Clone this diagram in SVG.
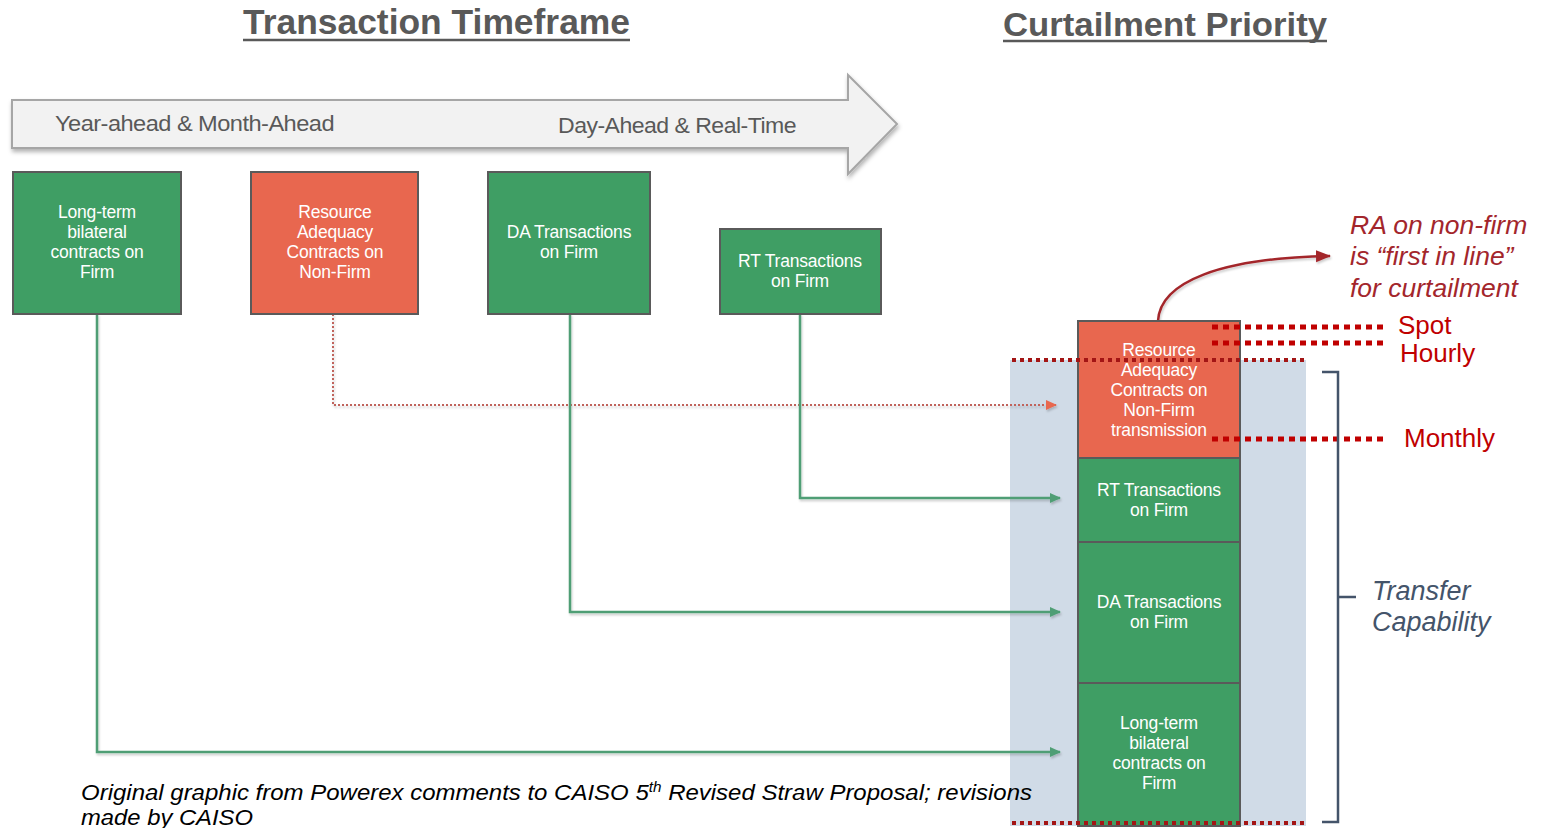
<svg xmlns="http://www.w3.org/2000/svg" width="1541" height="828" viewBox="0 0 1541 828">
<style>
.title{font-family:"Liberation Sans",Arial,sans-serif;font-weight:bold;fill:#595959;}
.tl{font-family:"Liberation Sans",Arial,sans-serif;font-size:22px;fill:#595959;letter-spacing:-0.5px;}
.bt{font-family:"Liberation Sans",Arial,sans-serif;font-size:17.5px;fill:#ffffff;text-anchor:middle;letter-spacing:-0.2px;}
.green{fill:#3f9e64;stroke:#5a5a5a;stroke-width:2;}
.orange{fill:#e8674f;stroke:#5a5a5a;stroke-width:2;}
.gc{fill:none;stroke:#4f9e74;stroke-width:2.5;}
.lbl{font-family:"Liberation Sans",Arial,sans-serif;font-size:26px;fill:#c00000;}
.ra{font-family:"Liberation Sans",Arial,sans-serif;font-size:26.5px;font-style:italic;fill:#a3262c;}
.tc{font-family:"Liberation Sans",Arial,sans-serif;font-size:27px;font-style:italic;fill:#44546a;}
.cap{font-family:"Liberation Sans",Arial,sans-serif;font-size:22px;font-style:italic;fill:#000;}
.rdot{stroke:#c00000;stroke-width:5;stroke-dasharray:6 5;fill:none;}
.bdot{stroke:#a31515;stroke-width:4;stroke-dasharray:4 4;fill:none;}
</style>
<defs>
<filter id="sh" x="-5%" y="-20%" width="110%" height="140%">
<feDropShadow dx="1" dy="3" stdDeviation="2" flood-color="#000" flood-opacity="0.3"/>
</filter>
<filter id="ls" x="-5%" y="-5%" width="110%" height="110%">
<feDropShadow dx="1" dy="2" stdDeviation="1.2" flood-color="#000" flood-opacity="0.2"/>
</filter>
<marker id="ag" markerWidth="12" markerHeight="12" refX="10" refY="5" orient="auto" markerUnits="userSpaceOnUse">
<path d="M0,0 L11,5 L0,10 Z" fill="#4f9e74"/>
</marker>
<marker id="ao" markerWidth="12" markerHeight="12" refX="10" refY="5" orient="auto" markerUnits="userSpaceOnUse">
<path d="M0,0 L11,5 L0,10 Z" fill="#e8674f"/>
</marker>
<marker id="ar" markerWidth="16" markerHeight="14" refX="14" refY="6" orient="auto" markerUnits="userSpaceOnUse">
<path d="M0,0 L15,6 L0,12 Z" fill="#a3262c"/>
</marker>
</defs>
<rect width="1541" height="828" fill="#ffffff"/>

<g id="titles">
<text class="title" x="243" y="34" font-size="35" textLength="387" lengthAdjust="spacingAndGlyphs">Transaction Timeframe</text>
<line x1="243" y1="40" x2="630" y2="40" stroke="#595959" stroke-width="2.5"/>
<text class="title" x="1003" y="36" font-size="33" textLength="324" lengthAdjust="spacingAndGlyphs">Curtailment Priority</text>
<line x1="1003" y1="41" x2="1327" y2="41" stroke="#595959" stroke-width="2.5"/>
</g>

<g id="timeline">
<path d="M12,100 L848,100 L848,75 L897,124 L848,174 L848,148 L12,148 Z" fill="#f2f2f2" stroke="#a6a6a6" stroke-width="2" filter="url(#sh)"/>
<text class="tl" x="55" y="131" textLength="279" lengthAdjust="spacingAndGlyphs">Year-ahead &amp; Month-Ahead</text>
<text class="tl" x="558" y="133" textLength="238" lengthAdjust="spacingAndGlyphs">Day-Ahead &amp; Real-Time</text>
</g>

<g id="bg-capability">
<rect x="1010" y="360" width="296" height="466" fill="#d0dbe7"/>
</g>

<g id="connectors" filter="url(#ls)">
<polyline class="gc" points="97,314 97,752 1060,752" marker-end="url(#ag)"/>
<polyline points="333,314 333,405 1056,405" fill="none" stroke="#c0645c" stroke-width="2" stroke-dasharray="2 2" marker-end="url(#ao)"/>
<polyline class="gc" points="570,314 570,612 1060,612" marker-end="url(#ag)"/>
<polyline class="gc" points="800,314 800,498 1060,498" marker-end="url(#ag)"/>
<path d="M1158,321 C1160,282 1220,258 1330,256" fill="none" stroke="#a3262c" stroke-width="2.5" marker-end="url(#ar)"/>
</g>

<g id="tf-longterm">
<rect class="green" x="13" y="172" width="168" height="142"/>
<text class="bt" x="97" y="218">Long-term</text>
<text class="bt" x="97" y="238">bilateral</text>
<text class="bt" x="97" y="258">contracts on</text>
<text class="bt" x="97" y="278">Firm</text>
</g>
<g id="tf-ra">
<rect class="orange" x="251" y="172" width="167" height="142"/>
<text class="bt" x="335" y="218">Resource</text>
<text class="bt" x="335" y="238">Adequacy</text>
<text class="bt" x="335" y="258">Contracts on</text>
<text class="bt" x="335" y="278">Non-Firm</text>
</g>
<g id="tf-da">
<rect class="green" x="488" y="172" width="162" height="142"/>
<text class="bt" x="569" y="238">DA Transactions</text>
<text class="bt" x="569" y="258">on Firm</text>
</g>
<g id="tf-rt">
<rect class="green" x="720" y="229" width="161" height="85"/>
<text class="bt" x="800" y="267">RT Transactions</text>
<text class="bt" x="800" y="287">on Firm</text>
</g>

<g id="cp-ra">
<rect class="orange" x="1078" y="321" width="162" height="137"/>
<text class="bt" x="1159" y="356">Resource</text>
<text class="bt" x="1159" y="376">Adequacy</text>
<text class="bt" x="1159" y="396">Contracts on</text>
<text class="bt" x="1159" y="416">Non-Firm</text>
<text class="bt" x="1159" y="436">transmission</text>
</g>
<g id="cp-rt">
<rect class="green" x="1078" y="458" width="162" height="84"/>
<text class="bt" x="1159" y="496">RT Transactions</text>
<text class="bt" x="1159" y="516">on Firm</text>
</g>
<g id="cp-da">
<rect class="green" x="1078" y="542" width="162" height="141"/>
<text class="bt" x="1159" y="608">DA Transactions</text>
<text class="bt" x="1159" y="628">on Firm</text>
</g>
<g id="cp-lt">
<rect class="green" x="1078" y="683" width="162" height="143"/>
<text class="bt" x="1159" y="729">Long-term</text>
<text class="bt" x="1159" y="749">bilateral</text>
<text class="bt" x="1159" y="769">contracts on</text>
<text class="bt" x="1159" y="789">Firm</text>
</g>

<g id="limits">
<line class="bdot" x1="1012" y1="360" x2="1305" y2="360"/>
<line class="bdot" x1="1012" y1="823" x2="1305" y2="823"/>
<line class="rdot" x1="1212" y1="327" x2="1388" y2="327"/>
<line class="rdot" x1="1212" y1="343" x2="1388" y2="343"/>
<line class="rdot" x1="1212" y1="439" x2="1388" y2="439"/>
<text class="lbl" x="1398" y="334">Spot</text>
<text class="lbl" x="1400" y="362">Hourly</text>
<text class="lbl" x="1404" y="447" font-size="27.5">Monthly</text>
</g>

<g id="ra-note">
<text class="ra" x="1350" y="234">RA on non-firm</text>
<text class="ra" x="1350" y="265">is “first in line”</text>
<text class="ra" x="1350" y="297">for curtailment</text>
</g>

<g id="transfer-capability">
<path d="M1322,372 L1338,372 L1338,822 L1322,822 M1338,597 L1356,597" fill="none" stroke="#44546a" stroke-width="2.5"/>
<text class="tc" x="1372" y="600">Transfer</text>
<text class="tc" x="1372" y="631">Capability</text>
</g>

<g id="caption">
<text class="cap" x="81" y="800" textLength="951" lengthAdjust="spacingAndGlyphs">Original graphic from Powerex comments to CAISO 5<tspan font-size="14" dy="-8">th</tspan><tspan dy="8"> Revised Straw Proposal; revisions</tspan></text>
<text class="cap" x="81" y="825" textLength="172" lengthAdjust="spacingAndGlyphs">made by CAISO</text>
</g>
</svg>
